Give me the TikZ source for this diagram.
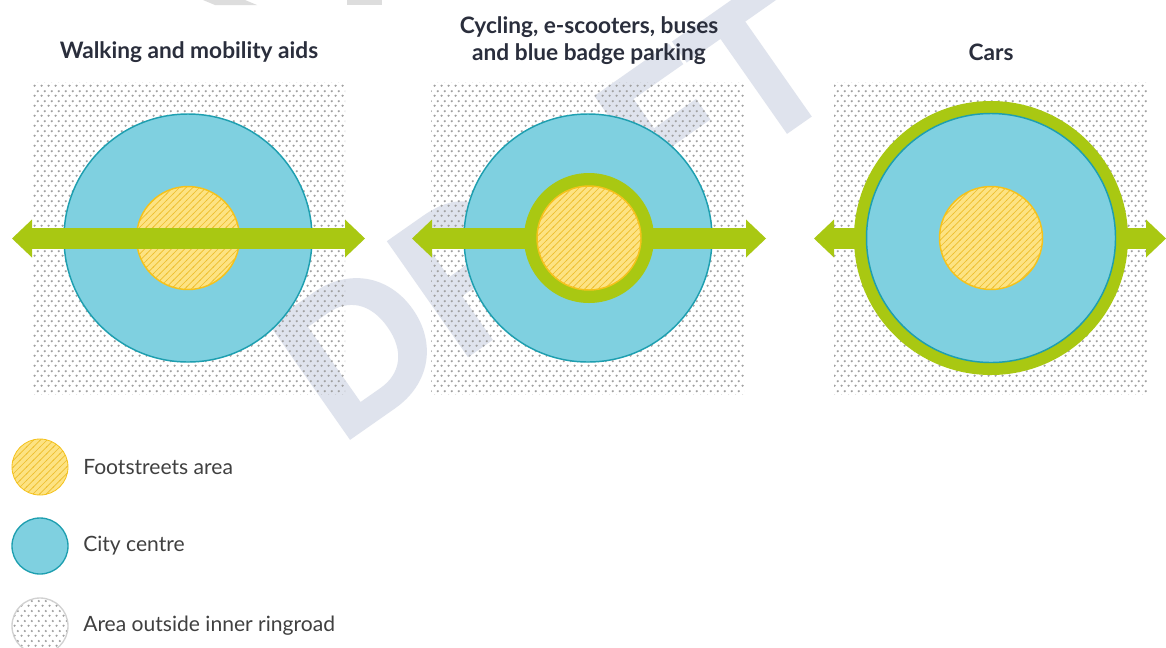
\documentclass[tikz,border=0pt]{standalone}
\usepackage{fontspec}
\setmainfont{Lato}
\newfontfamily\wmfont[FakeBold=2.5]{Lato}
\usetikzlibrary{arrows.meta,patterns}

\definecolor{cityblue}{HTML}{7FD0E0}
\definecolor{cityedge}{HTML}{1E9FB0}
\definecolor{footfill}{HTML}{FDE383}
\definecolor{foothatchc}{HTML}{EEBE2C}
\definecolor{footedge}{HTML}{F5C21B}
\definecolor{roadgreen}{HTML}{A9C812}
\definecolor{dotgray}{HTML}{A0A0A0}
\definecolor{wmark}{HTML}{DFE3ED}
\definecolor{wmarkgray}{HTML}{DDDDDD}
\definecolor{titletext}{HTML}{2A2E3C}
\definecolor{legtext}{HTML}{404040}

\pgfdeclarepatternformonly{ringdots}{\pgfqpoint{0pt}{0pt}}{\pgfqpoint{5pt}{7.5pt}}{\pgfqpoint{5pt}{7.5pt}}{%
  \pgfpathcircle{\pgfqpoint{1.25pt}{1.875pt}}{0.95pt}%
  \pgfpathcircle{\pgfqpoint{3.75pt}{5.625pt}}{0.95pt}%
  \pgfusepath{fill}}
\pgfdeclarepatternformonly{foothatch}{\pgfqpoint{-0.5pt}{-0.5pt}}{\pgfqpoint{5.5pt}{5.5pt}}{\pgfqpoint{5pt}{5pt}}{%
  \pgfsetlinewidth{0.5pt}%
  \pgfpathmoveto{\pgfqpoint{-0.5pt}{-0.5pt}}%
  \pgfpathlineto{\pgfqpoint{5.5pt}{5.5pt}}%
  \pgfusepath{stroke}}

\tikzset{
  outside/.style={rectangle, inner sep=0pt, minimum width=234.75pt, minimum height=234pt,
    pattern=ringdots, pattern color=dotgray},
  city/.style={circle, inner sep=0pt, minimum size=186pt, fill=cityblue, draw=cityedge, line width=1.1pt},
  foot/.style={circle, inner sep=0pt, minimum size=77.25pt, draw=footedge, line width=1.1pt,
    preaction={fill=footfill}, pattern=foothatch, pattern color=foothatchc},
  ring/.style={circle, inner sep=0pt, fill=roadgreen},
  road/.style={draw=roadgreen, line width=15.75pt,
    {Triangle[width=28.5pt,length=15pt,line width=0pt]}-{Triangle[width=28.5pt,length=15pt,line width=0pt]}},
  title/.style={font=\fontsize{17}{20.25}\selectfont\bfseries, text=titletext, align=center},
  legcircle/.style={circle, inner sep=0pt, minimum size=42pt},
  legtxt/.style={anchor=west, font=\fontsize{15.8}{19}\selectfont, text=legtext, inner sep=0pt},
}

\begin{document}
\begin{tikzpicture}[x=0.75pt, y=-0.75pt]
\useasboundingbox (0,0) rectangle (1166,647);
\fill[white] (0,0) rectangle (1166,647);

% watermark
\node[rotate=35, text=wmark, font=\wmfont\fontsize{142}{142}\selectfont\bfseries, inner sep=0pt] (wm) at (552,212) {DRAFT};
\fill[wmarkgray] (203,0) -- (245,0) -- (257,5) -- (215,5) -- cycle;
\fill[wmarkgray] (347,0) -- (382,0) -- (382,5) -- (347,5) -- cycle;

% titles
\node[title] (t1) at (189,52) {Walking and mobility aids};
\node[title] (t2) at (589,40.5) {Cycling, e-scooters, buses\\and blue badge parking};
\node[title] (t3) at (991,52) {Cars};

% panel 1
\node[outside] (sq1) at (188.5,238) {};
\node[city] (c1) at (188,238) {};
\node[foot] (f1) at (188,238) {};
\coordinate (a1l) at (12,238.5);
\coordinate (a1r) at (365,238.5);
\draw[road] (a1l) -- (a1r);

% panel 2
\node[outside] (sq2) at (587.5,238) {};
\node[city] (c2) at (588,238) {};
\coordinate (a2l) at (412,238.5);
\coordinate (a2r) at (766,238.5);
\draw[road] (a2l) -- (a2r);
\node[ring, minimum size=97.5pt] (r2) at (589,238) {};
\node[foot, minimum size=78pt] (f2) at (589,238) {};

% panel 3
\node[outside] (sq3) at (990.5,238) {};
\coordinate (a3l) at (814,238.5);
\coordinate (a3r) at (1166,238.5);
\draw[road] (a3l) -- (a3r);
\node[ring, minimum size=205.5pt] (r3) at (991,238) {};
\node[city, minimum size=186.75pt] (c3) at (991,238) {};
\node[foot] (f3) at (991,238) {};

% legend
\node[legcircle, draw=footedge, line width=0.6pt, preaction={fill=footfill}, pattern=foothatch, pattern color=foothatchc] (lf) at (40,467) {};
\node[legtxt] (lft) at (83,467) {Footstreets area};
\node[legcircle, fill=cityblue, draw=cityedge, line width=1pt] (lc) at (40,546) {};
\node[legtxt] (lct) at (83,546) {City centre};
\node[legcircle, draw=black!18, line width=1pt, pattern=ringdots, pattern color=dotgray] (lo) at (40,626) {};
\node[legtxt] (lot) at (83,626) {Area outside inner ringroad};
\end{tikzpicture}
\end{document}
